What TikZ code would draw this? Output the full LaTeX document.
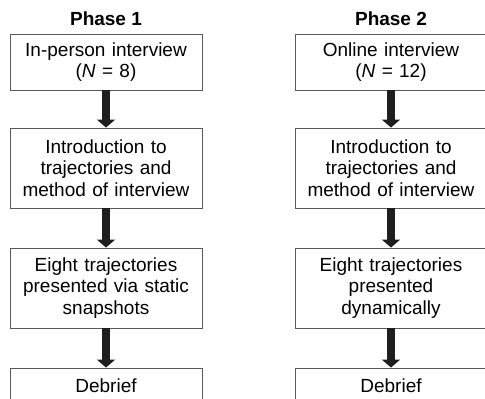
\documentclass[tikz,border=0pt]{standalone}
\usepackage{fontspec}
\setmainfont{Liberation Sans}
\usetikzlibrary{arrows.meta}
\definecolor{Cbox}{HTML}{5a5a5a}
\definecolor{Carr}{HTML}{1e1e1e}

\tikzset{
	stagebox/.style={draw=Cbox, line width=0.9pt, inner sep=0pt,
		minimum width=192pt, text width=192pt, align=center,
		font=\fontsize{19}{21.5}\selectfont},
	phaselabel/.style={font=\fontsize{19}{21.5}\selectfont\bfseries, anchor=base},
	flowarrow/.style={Carr, line width=8pt, -{Triangle[width=18pt,length=8pt]}}
}

\begin{document}
\begin{tikzpicture}[x=1pt, y=-1pt]
		
		%% canvas — bottom boxes are cut off at the lower edge
		\useasboundingbox (0,0) rectangle (485,399);
		\clip (0,0) rectangle (485,399);
		
		%% ── phase 1 (left column) ─────────────────────────────────────────────
		\node[phaselabel] (ph1) at (106, 25) {Phase 1};
		\node[stagebox, minimum height=56pt] (a1) at (106,  62) {In-person interview\\(\textit{N} = 8)};
		\node[stagebox, minimum height=80pt] (a2) at (106, 168) {Introduction to\\trajectories and\\method of interview};
		\node[stagebox, minimum height=80pt] (a3) at (106, 288) {Eight trajectories\\presented via static\\snapshots};
		\node[stagebox, minimum height=35pt] (a4) at (106, 385.5) {Debrief};
		
		%% ── phase 2 (right column) ────────────────────────────────────────────
		\node[phaselabel] (ph2) at (391, 25) {Phase 2};
		\node[stagebox, minimum height=56pt] (b1) at (391,  62) {Online interview\\(\textit{N} = 12)};
		\node[stagebox, minimum height=80pt] (b2) at (391, 168) {Introduction to\\trajectories and\\method of interview};
		\node[stagebox, minimum height=80pt] (b3) at (391, 288) {Eight trajectories\\presented\\dynamically};
		\node[stagebox, minimum height=35pt] (b4) at (391, 385.5) {Debrief};
		
		%% ── arrows between stages ─────────────────────────────────────────────
		\draw[flowarrow] (a1) -- (a2);
		\draw[flowarrow] (a2) -- (a3);
		\draw[flowarrow] (a3) -- (a4);
		\draw[flowarrow] (b1) -- (b2);
		\draw[flowarrow] (b2) -- (b3);
		\draw[flowarrow] (b3) -- (b4);
		
	\end{tikzpicture}
\end{document}
